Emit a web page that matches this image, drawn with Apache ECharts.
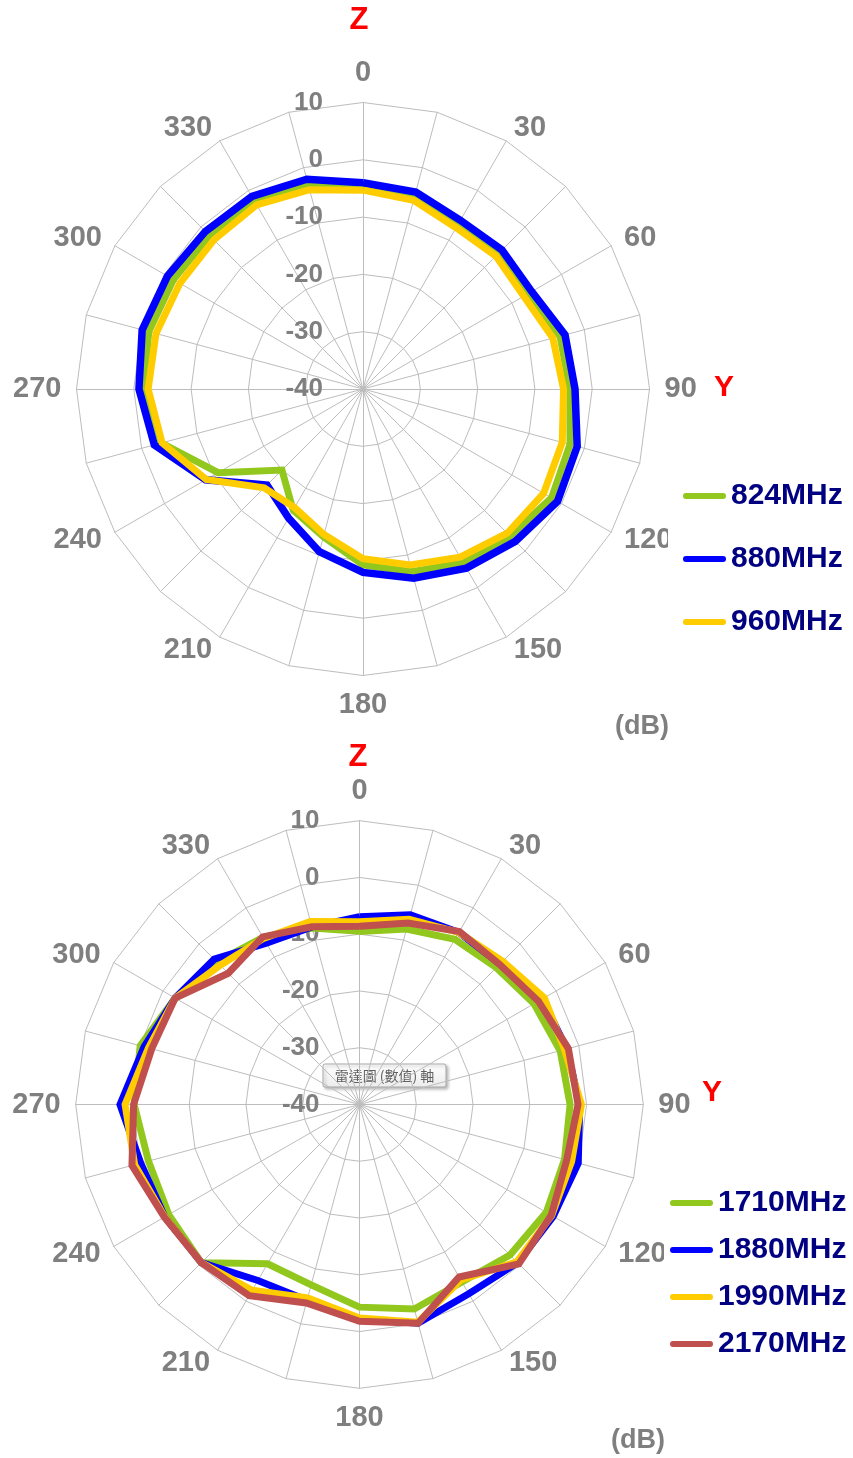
<!DOCTYPE html>
<html>
<head>
<meta charset="utf-8">
<title>Radiation pattern</title>
<script src="https://cdn.jsdelivr.net/npm/echarts@6/dist/echarts.min.js"></script>
<style>
  html, body { margin: 0; padding: 0; background: #fff; }
  #chart { width: 853px; height: 1458px; }
</style>
</head>
<body>
<div id="chart"></div>
<script>
// Bearings of the samples, clockwise from Z, in degrees
const bearings = [0, 15, 30, 45, 60, 75, 90, 105, 120, 135, 150, 165,
                  180, 195, 210, 225, 240, 255, 270, 285, 300, 315, 330, 345];

// Gain scale (dB)
const gainMin = -40;
const gainMax = 10;
const gainStep = 10;

// Low band
const lowBandNames = ['824MHz', '880MHz', '960MHz'];
const low824 = [-4.7, -5.2, -7.0, -6.5, -6.8, -4.4, -3.9, -2.6, -2.0, -3.7, -5.0, -7.0,
                -9.3, -13.3, -15.6, -20.0, -10.8, -3.6, -1.7, -1.3, -1.8, -2.1, -2.0, -2.9];
const low880 = [-4.0, -4.4, -6.0, -5.7, -6.0, -3.5, -3.0, -1.3, -0.8, -2.4, -3.9, -5.8,
                -8.0, -10.6, -14.0, -16.3, -8.3, -2.3, -0.9, -0.1, -0.6, -1.1, -1.2, -2.1];
const low960 = [-5.3, -5.9, -7.5, -7.2, -7.6, -5.7, -5.0, -4.0, -3.6, -4.4, -6.1, -8.2,
                -10.4, -13.7, -16.1, -15.6, -8.4, -3.7, -2.5, -2.6, -3.1, -3.2, -2.9, -4.0];

// High band
const highBandNames = ['1710MHz', '1880MHz', '1990MHz', '2170MHz'];
const high1710 = [-9.5, -8.0, -6.4, -5.9, -4.5, -3.4, -2.9, -2.6, -2.0, -2.5, -3.9, -2.7,
                  -4.3, -7.1, -7.6, -0.6, -1.2, -1.5, -0.3, 0.0, -2.5, -4.5, -6.0, -7.8];
const high1880 = [-6.9, -5.4, -5.0, -5.0, -2.8, -2.2, -1.2, -0.1, -0.6, -0.6, -1.5, -0.1,
                  -2.2, -4.3, -4.2, -0.6, -0.4, -0.1, 2.2, -0.7, -2.5, -3.8, -7.2, -7.6];
const high1990 = [-7.8, -6.2, -5.0, -4.3, -2.4, -2.6, -0.9, -1.3, -0.9, -0.8, -4.3, -0.3,
                  -2.4, -4.7, -2.2, -0.6, -0.4, 1.0, 1.3, -1.5, -2.5, -5.3, -6.2, -6.6];
const high2170 = [-8.6, -6.9, -4.8, -5.1, -3.6, -1.9, -1.5, -2.2, -1.0, -0.3, -4.9, -0.1,
                  -1.8, -3.8, -1.1, -0.6, -0.3, 1.5, -0.2, -2.1, -2.5, -7.3, -5.9, -7.6];

const lowColors = ['#92c81e', '#0000ff', '#ffcc00'];
const highColors = ['#92c81e', '#0000ff', '#ffcc00', '#c0504d'];

const FONT = "'Liberation Sans', Arial, Helvetica, sans-serif";
const GRAY = '#7f7f7f';
const GRID = '#bdbdbd';

// ECharts lays radar indicators out counter-clockwise; bearings run clockwise.
function toCcw(values) {
  const n = values.length;
  return values.map((_, i) => values[(n - i) % n]);
}

function indicators() {
  const n = bearings.length;
  return bearings.map((_, i) => {
    const deg = bearings[(n - i) % n];
    const ind = { name: deg % 30 === 0 ? String(deg) : '', min: gainMin, max: gainMax };
    if (i === 0) {
      // gain ticks are printed along the Z spoke only
      ind.axisLabel = {
        show: true, margin: 40, color: GRAY, fontSize: 26,
        fontWeight: 'bold', fontFamily: FONT
      };
    }
    return ind;
  });
}

function radarBox(center, radius) {
  return {
    center: center,
    radius: radius,
    startAngle: 90,
    splitNumber: (gainMax - gainMin) / gainStep,
    shape: 'polygon',
    indicator: indicators(),
    axisName: { color: GRAY, fontSize: 29, fontWeight: 'bold', fontFamily: FONT },
    axisNameGap: 15,
    axisLine: { lineStyle: { color: GRID, width: 1 } },
    splitLine: { lineStyle: { color: GRID, width: 1 } },
    splitArea: { show: false },
    axisTick: { show: false },
    axisLabel: { show: false }
  };
}

function radarSeries(radarIndex, name, values, color, width) {
  return {
    type: 'radar',
    radarIndex: radarIndex,
    name: name,
    symbol: 'none',
    silent: true,
    lineStyle: { color: color, width: width, join: 'miter' },
    itemStyle: { color: color },
    data: [{ name: name, value: toCcw(values) }]
  };
}

const pill = 'path://M3,0 L41,0 A3,3 0 0 1 41,6 L3,6 A3,3 0 0 1 3,0 Z';

function legendBox(names, left, top, gap, clipLeft) {
  return {
    data: names,
    orient: 'vertical',
    left: left - clipLeft,
    top: top,
    padding: [0, 0, 0, clipLeft],
    backgroundColor: '#fff',
    icon: pill,
    itemWidth: 43,
    itemHeight: 6,
    itemGap: gap,
    selectedMode: false,
    textStyle: {
      color: '#000080', fontSize: 30, fontWeight: 'bold',
      fontFamily: FONT, lineHeight: 30
    }
  };
}

function label(text, x, y, color, size) {
  return {
    type: 'text', x: x, y: y, z: 10,
    style: {
      text: text, fill: color, align: 'center', verticalAlign: 'middle',
      font: 'bold ' + size + 'px ' + FONT
    }
  };
}

const chart = echarts.init(document.getElementById('chart'), null, { renderer: 'canvas' });

chart.setOption({
  animation: false,
  backgroundColor: '#fff',
  radar: [
    radarBox([363, 389], 286.5),
    radarBox([359.5, 1104.5], 283.8)
  ],
  legend: [
    legendBox(lowBandNames, 683, 481, 33, 15),
    legendBox(highBandNames, 670, 1188, 17, 6)
  ],
  series: [
    radarSeries(0, lowBandNames[0], low824, lowColors[0], 7),
    radarSeries(0, lowBandNames[1], low880, lowColors[1], 7.5),
    radarSeries(0, lowBandNames[2], low960, lowColors[2], 7),
    radarSeries(1, highBandNames[0], high1710, highColors[0], 7),
    radarSeries(1, highBandNames[1], high1880, highColors[1], 7),
    radarSeries(1, highBandNames[2], high1990, highColors[2], 7),
    radarSeries(1, highBandNames[3], high2170, highColors[3], 7)
  ],
  graphic: {
    elements: [
      label('Z', 359, 20, '#ff0000', 31),
      label('Y', 724, 388, '#ff0000', 30),
      label('(dB)', 642, 727, GRAY, 27),
      label('Z', 358, 757, '#ff0000', 31),
      label('Y', 712, 1093, '#ff0000', 30),
      label('(dB)', 638, 1441, GRAY, 27),
      {
        // hover hint box over the lower chart's value axis
        type: 'group', x: 323, y: 1064, z: 20,
        children: [
          {
            type: 'rect',
            shape: { x: 0, y: 0, width: 123, height: 23, r: 2 },
            style: {
              fill: new echarts.graphic.LinearGradient(0, 0, 0, 1, [
                { offset: 0, color: '#ffffff' }, { offset: 1, color: '#ececec' }
              ]),
              stroke: '#a8a8a8', lineWidth: 1,
              shadowBlur: 3, shadowOffsetX: 2, shadowOffsetY: 2,
              shadowColor: 'rgba(0,0,0,0.25)'
            }
          },
          {
            type: 'text', x: 61.5, y: 12,
            style: {
              text: '雷達圖 (數值) 軸', fill: '#606060', align: 'center',
              verticalAlign: 'middle',
              font: "14px 'Noto Sans CJK TC', 'Noto Sans CJK SC', sans-serif"
            }
          }
        ]
      }
    ]
  }
});
</script>
</body>
</html>
